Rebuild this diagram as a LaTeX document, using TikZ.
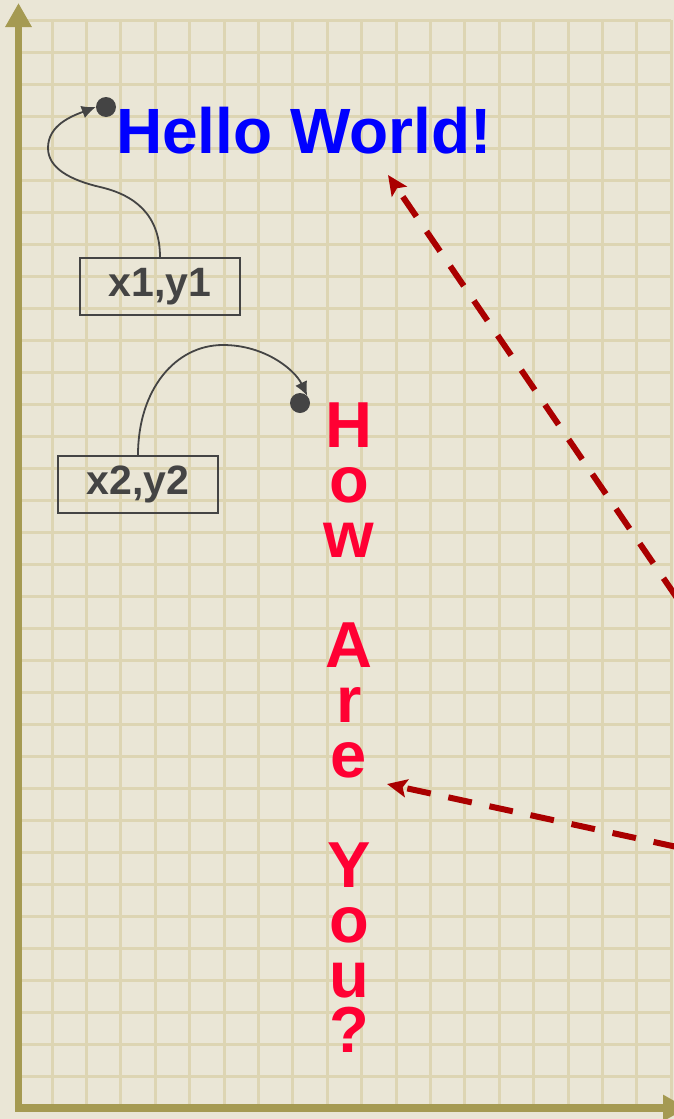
\documentclass[tikz,border=0pt]{standalone}
\usepackage{fontspec}
\setmainfont{Liberation Sans}
\usetikzlibrary{arrows.meta}
\definecolor{paper}{HTML}{EAE6D6}
\definecolor{gridtan}{HTML}{DDD5B3}
\definecolor{axisolive}{HTML}{A59A52}
\definecolor{darkred}{HTML}{AA0000}
\definecolor{howred}{HTML}{FF0033}
\definecolor{inkgray}{HTML}{444444}
\begin{document}
\begin{tikzpicture}[x=1pt, y=-1pt,
  gridline/.style={gridtan, line width=3pt},
  axisline/.style={axisolive, line width=7.5pt, -{Triangle[length=24pt,width=25pt]}},
  coordbox/.style={draw=inkgray, line width=1.8pt, text=inkgray, font=\fontsize{41}{41}\selectfont\bfseries, minimum width=160pt, minimum height=57pt, inner sep=0pt},
  dotmark/.style={circle, fill=inkgray, minimum size=20pt, inner sep=0pt},
  pointer/.style={inkgray, line width=1.8pt, -{Latex[length=14pt,width=13pt]}},
  calloutarrow/.style={darkred, line width=6pt, dash pattern=on 24pt off 18pt, -{Stealth[length=20pt,width=18pt,inset=4pt]}},
  howletter/.style={text=howred, font=\fontsize{65}{65}\selectfont\bfseries, anchor=base, inner sep=0pt}]
% paper and grid
\clip (0,0) rectangle (674,1119);
\fill[paper] (0,0) rectangle (674,1119);
\foreach \i in {0,...,19}
  \draw[gridline] (17.6+34.4*\i,20) -- (17.6+34.4*\i,1108);
\foreach \j in {0,...,34}
  \draw[gridline] (17.6,20+32*\j) -- (671.2,20+32*\j);
% axes
\draw[axisline] (18.5,1108) -- (18.5,3);
\draw[axisline] (15,1108) -- (687,1108);
% texts
\node[anchor=base west, inner sep=0pt, text=blue, font=\fontsize{64}{64}\selectfont\bfseries] (hello) at (116,153) {Hello World!};
\foreach \ch/\row in {H/0,o/1,w/2,A/4,r/5,e/6,Y/8,o/9,u/10,?/11}
  \node[howletter] (how\row) at (349,447+55*\row) {\ch};
% points and their labels
\node[dotmark] (dot1) at (106,107) {};
\node[dotmark] (dot2) at (300,403) {};
\node[coordbox] (box1) at (160,286.5) {x1,y1\hspace{6pt}};
\node[coordbox] (box2) at (138,484.5) {x2,y2\hspace{6pt}};
\draw[pointer] (box1.north) .. controls (160,215) and (135,195) .. (100,187)
  .. controls (70,180) and (48,168) .. (48,148)
  .. controls (48,125) and (72,116) .. (dot1.west);
\draw[pointer] (box2.north) .. controls (138,390) and (175,345) .. (223,345)
  .. controls (265,345) and (295,370) .. (dot2.north east);
% dashed callouts
\coordinate (hellotip) at (388,175);
\coordinate (hellofrom) at (677,598);
\coordinate (aretip) at (387,784);
\coordinate (arefrom) at (677,847);
\draw[calloutarrow] (hellofrom) -- (hellotip);
\draw[calloutarrow] (arefrom) -- (aretip);
\end{tikzpicture}
\end{document}
